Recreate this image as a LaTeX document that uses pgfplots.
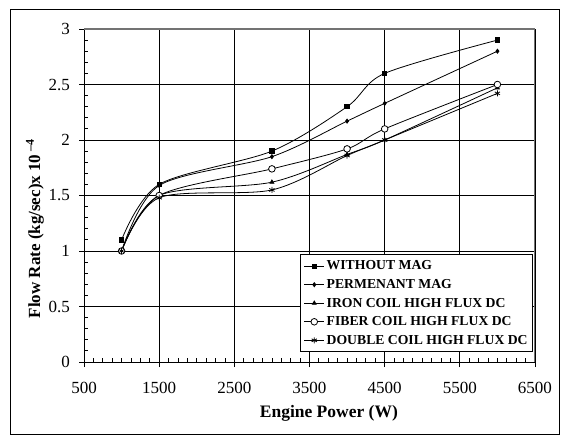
\documentclass[border=0pt]{standalone}
\usepackage{fontspec}
\setmainfont{Liberation Serif}
\usepackage{pgfplots}
\usepackage{pgfplotstable}
\pgfplotsset{compat=1.18}

% Flow rate (x 10^-4 kg/sec) against engine power (W)
\pgfplotstableread{
P     WO    PM    IC    FC    DC
1000  1.10  1.00  1.00  1.00  1.00
1500  1.60  1.59  1.50  1.50  1.48
3000  1.90  1.85  1.62  1.74  1.55
4000  2.30  2.17  1.87  1.92  1.86
4500  2.60  2.33  2.00  2.10  2.00
6000  2.90  2.80  2.47  2.50  2.42
}\flowdata

\begin{document}
\begin{tikzpicture}
\useasboundingbox (0bp,0bp) rectangle (561bp,437bp);
\draw[black, line width=0.9bp] (10bp,3bp) rectangle (559bp,428bp);
\begin{axis}[
  at={(84bp,75bp)}, anchor=south west,
  scale only axis, width=451bp, height=333bp,
  xmin=500, xmax=6500, ymin=0, ymax=3,
  xtick={500,1500,...,6500},
  ytick={0,0.5,...,3},
  minor x tick num=7, minor y tick num=4,
  tick align=inside,
  major tick length=5bp, minor tick length=4bp,
  tick style={black, line width=0.8bp},
  grid=major,
  major grid style={black, line width=0.7bp},
  axis x line*=bottom, axis y line*=left,
  axis line style={black, line width=1bp, -},
  extra x ticks={500,1500,...,6500}, extra x tick labels={},
  extra x tick style={tick align=outside, grid=none},
  extra y ticks={0,0.5,...,3}, extra y tick labels={},
  extra y tick style={tick align=outside, grid=none},
  /pgf/number format/assume math mode=true,
  /pgf/number format/set thousands separator={},
  tick label style={font=\fontsize{17bp}{20bp}\selectfont},
  xticklabel style={inner ysep=0pt, yshift=-20bp},
  yticklabel style={inner xsep=0pt, xshift=-14bp},
  xlabel={Engine Power (W)},
  xlabel style={font=\bfseries\fontsize{17.5bp}{20bp}\selectfont,
    at={(axis description cs:0.543,-0.168)}, anchor=base},
  ylabel={Flow Rate (kg/sec)x 10\,\textsuperscript{--4}},
  ylabel style={font=\bfseries\fontsize{17bp}{20bp}\selectfont,
    at={(axis description cs:-0.1086,0.4)}, anchor=center, rotate=0},
  legend style={at={(rel axis cs:0.9956,0.03)}, anchor=south east,
    draw=black, line width=0.8bp, fill=white,
    font=\bfseries\fontsize{13.7bp}{16bp}\selectfont,
    row sep=4bp, inner ysep=4bp,
    cells={anchor=west}},
  legend image code/.code={%
    \draw[mark repeat=2, mark phase=2, #1]
      plot coordinates {(0bp,0bp) (10bp,0bp) (20bp,0bp)};},
  every axis plot/.append style={black, line width=0.8bp, smooth},
]
\addplot[mark=square*, mark size=2.2bp] table[x=P, y=WO] {\flowdata};
\addlegendentry{WITHOUT MAG}
\addplot[mark=diamond*, mark size=2bp] table[x=P, y=PM] {\flowdata};
\addlegendentry{PERMENANT MAG}
\addplot[mark=triangle*, mark size=2.2bp] table[x=P, y=IC] {\flowdata};
\addlegendentry{IRON COIL HIGH FLUX DC}
\addplot[mark=*, mark size=3.3bp, mark options={fill=white}] table[x=P, y=FC] {\flowdata};
\addlegendentry{FIBER COIL HIGH FLUX DC}
\addplot[mark=asterisk, mark size=3bp] table[x=P, y=DC] {\flowdata};
\addlegendentry{DOUBLE COIL HIGH FLUX DC}
\draw[black!55, line width=1.2bp]
  (rel axis cs:0,1) -- (rel axis cs:1,1) -- (rel axis cs:1,0);
\end{axis}
\end{tikzpicture}
\end{document}
